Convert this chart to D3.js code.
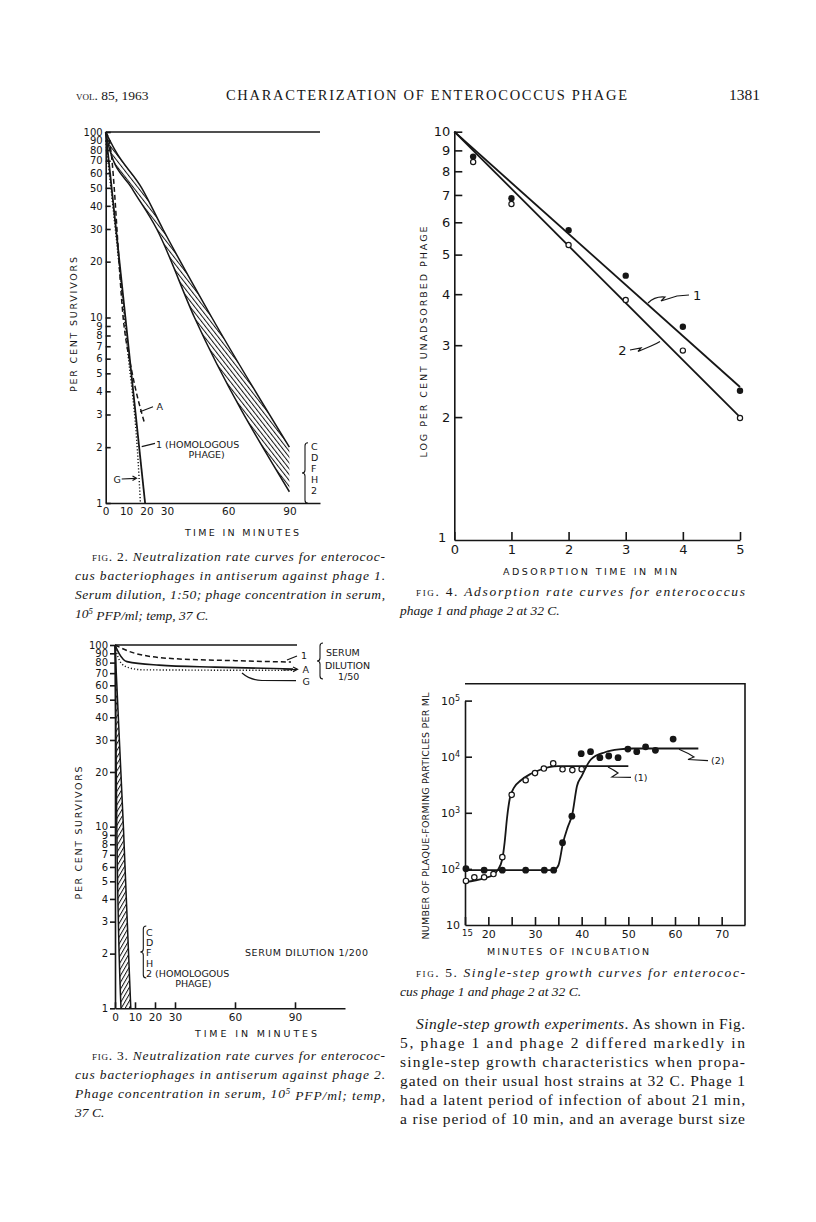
<!DOCTYPE html>
<html>
<head>
<meta charset="utf-8">
<title>Characterization of enterococcus phage</title>
<script src="https://cdn.jsdelivr.net/npm/d3@7/dist/d3.min.js"></script>
<style>
  body { margin: 0; background: #fff; }
  svg { display: block; }
</style>
</head>
<body>
<svg id="page" width="816" height="1222"></svg>
<script>
// Fig. 2 - neutralization, antiserum against phage 1, serum 1:50
var fig2YTicks = [100, 90, 80, 70, 60, 50, 40, 30, 20, 10, 9, 8, 7, 6, 5, 4, 3, 2, 1];
var fig2XTicks = [0, 10, 20, 30, 60, 90];
var fig2Phage1 = [[0, 100], [19.3, 1]];
var fig2A = [[0, 100], [2, 87], [9, 9], [13, 5], [19, 2.7]];
var fig2G = [[0, 90], [10.3, 7.4], [16.3, 1.4], [17, 1]];
var fig2BandUpper = [[0, 100], [4.5, 80], [17.6, 50], [28, 30], [52, 10], [90, 2]];
var fig2BandLower = [[0, 100], [2, 80], [12.7, 50], [25, 30], [43.5, 10], [90, 1.15]];
var fig2BandNames = ["C", "D", "F", "H", "2"];

// Fig. 3 - neutralization, antiserum against phage 2
var fig3YTicks = [100, 90, 80, 70, 60, 50, 40, 30, 20, 10, 9, 8, 7, 6, 5, 4, 3, 2, 1];
var fig3XTicks = [0, 10, 20, 30, 60, 90];
var fig3Phage1 = [[0, 100], [10, 90], [30, 84], [60, 82], [88, 80.5]];
var fig3A = [[0, 100], [2, 90], [6, 81], [22, 77.5], [50, 75.5], [89, 73.8]];
var fig3G = [[0, 98], [1.5, 86], [3.3, 79], [7, 75], [14, 73], [89, 72.5]];
var fig3BandLeft = [[0, 100], [0.9, 10], [3, 1]];
var fig3BandRight = [[0, 100], [4.2, 10], [7.9, 1]];
var fig3BandNames = ["C", "D", "F", "H", "2 (HOMOLOGOUS"];

// Fig. 4 - adsorption rate
var fig4Times = [0.33, 1, 2, 3, 4, 5];
var fig4Phage1 = [8.69, 6.87, 5.74, 4.44, 3.33, 2.32];
var fig4Phage2 = [8.43, 6.65, 5.28, 3.87, 2.91, 1.99];
var fig4Fit1 = [[0, 10], [5, 2.37]];
var fig4Fit2 = [[0, 10], [5, 2.0]];
var fig4YTicks = [10, 9, 8, 7, 6, 5, 4, 3, 2, 1];
var fig4XTicks = [0, 1, 2, 3, 4, 5];

// Fig. 5 - single-step growth
var fig5Phage1 = [[15.2, 61], [17, 71], [19.1, 71], [21.1, 81], [23, 162], [25, 2090], [28, 3800],
  [30, 5100], [31.9, 6150], [33.9, 7600], [35.9, 5960], [38, 5770], [40, 6000]];
var fig5Phage2 = [[15.2, 101], [19.1, 95], [23, 95], [28, 95], [32, 95], [34, 95], [35.9, 294],
  [37.9, 870], [39.9, 11300], [41.9, 12300], [43.9, 9600], [45.8, 10300], [47.8, 9600],
  [49.9, 13700], [51.8, 12300], [53.7, 15000], [55.8, 13000], [59.6, 20600]];
var fig5Curve1 = [[15, 58], [19, 68], [21, 78], [22, 95], [23, 150], [23.5, 300], [24, 800],
  [24.6, 1800], [25.5, 2800], [27, 3800], [29, 4900], [31, 5800], [33, 6500], [35, 6800], [50, 6800]];
var fig5Curve2 = [[15, 95], [34, 95], [35, 115], [36, 290], [37, 550], [38, 950], [39, 3000],
  [40, 4500], [42, 9000], [45, 12000], [48, 13500], [51, 14000], [65, 14000]];
var fig5YTicks = [10, 100, 1000, 10000, 100000];
var fig5XTicks = [15, 20, 25, 30, 35, 40, 45, 50, 55, 60, 65, 70];

var svg = d3.select('#page');
var ink = '#161616';
var sans = '"DejaVu Sans", "Liberation Sans", sans-serif';
var serif = '"Liberation Serif", "DejaVu Serif", serif';

var defs = svg.append('defs');
function hatch(id, angle, gap) {
  defs.append('pattern')
      .attr('id', id)
      .attr('patternUnits', 'userSpaceOnUse')
      .attr('width', gap).attr('height', 10)
      .attr('patternTransform', 'rotate(' + angle + ')')
    .append('line')
      .attr('x1', 0.5).attr('y1', 0).attr('x2', 0.5).attr('y2', 10)
      .attr('stroke', ink).attr('stroke-width', 1);
}
hatch('hatch2', -38, 3.6);
hatch('hatch3', 30, 3.4);

function styleAxis(g, size) {
  g.attr('font-family', sans).attr('font-size', size);
  g.selectAll('path, line').attr('stroke', ink).attr('stroke-width', 1.6);
  g.selectAll('text').attr('fill', ink);
}

function label(x, y, str, size, anchor) {
  return svg.append('text')
      .attr('x', x).attr('y', y)
      .attr('font-family', sans)
      .attr('font-size', size || 9.5)
      .attr('text-anchor', anchor || 'start')
      .attr('dominant-baseline', 'central')
      .attr('fill', ink)
      .text(str);
}

function title(x, y, str, len, vertical) {
  var t = svg.append('text')
      .attr('font-family', sans)
      .attr('font-size', 9.5)
      .attr('text-anchor', 'middle')
      .attr('dominant-baseline', 'central')
      .attr('textLength', len)
      .attr('lengthAdjust', 'spacing')
      .attr('fill', ink)
      .text(str);
  if (vertical) t.attr('transform', 'translate(' + x + ',' + y + ') rotate(-90)');
  else t.attr('x', x).attr('y', y);
}

function ink_path(d, w) {
  return svg.append('path').attr('d', d).attr('fill', 'none')
      .attr('stroke', ink).attr('stroke-width', w || 1.2);
}

function brace(x, y0, y1) {
  var w = 3, m = (y0 + y1) / 2;
  ink_path('M' + (x + w) + ',' + y0 + ' Q' + x + ',' + y0 + ' ' + x + ',' + (y0 + w) +
    ' L' + x + ',' + (m - w) + ' Q' + x + ',' + m + ' ' + (x - w) + ',' + m +
    ' Q' + x + ',' + m + ' ' + x + ',' + (m + w) +
    ' L' + x + ',' + (y1 - w) + ' Q' + x + ',' + y1 + ' ' + (x + w) + ',' + y1, 1.1);
}

function band(x, y, upper, lower, pattern) {
  var line = d3.line().x(function(d) { return x(d[0]); }).y(function(d) { return y(d[1]); })
      .curve(d3.curveMonotoneX);
  var back = line(lower.slice().reverse());
  svg.append('path')
      .attr('d', line(upper) + 'L' + back.slice(1) + 'Z')
      .attr('fill', 'url(#' + pattern + ')');
  [upper, lower].forEach(function(edge) {
    svg.append('path').attr('d', line(edge)).attr('fill', 'none')
        .attr('stroke', ink).attr('stroke-width', 1.5);
  });
}

function curve(x, y, data, dash, width) {
  var line = d3.line().x(function(d) { return x(d[0]); }).y(function(d) { return y(d[1]); })
      .curve(d3.curveMonotoneX);
  svg.append('path').attr('d', line(data)).attr('fill', 'none')
      .attr('stroke', ink).attr('stroke-width', width || 1.6)
      .attr('stroke-dasharray', dash || null);
}

// ---------------- Fig. 2 ----------------
var x2 = d3.scaleLinear().domain([0, 105]).range([105.7, 320]);
var y2 = d3.scaleLog().domain([1, 100]).range([503, 132]);

svg.append('g').attr('transform', 'translate(' + x2(0) + ',0)')
    .call(d3.axisLeft(y2).tickValues(fig2YTicks).tickFormat(d3.format('d'))
      .tickSizeInner(-5).tickSizeOuter(0).tickPadding(3))
    .call(styleAxis, 10);
svg.append('g').attr('transform', 'translate(0,' + y2(1) + ')')
    .call(d3.axisBottom(x2).tickValues(fig2XTicks).tickSize(0).tickPadding(5))
    .call(styleAxis, 10.5);
svg.append('line').attr('x1', x2(0)).attr('x2', x2(105)).attr('y1', y2(100)).attr('y2', y2(100))
    .attr('stroke', ink).attr('stroke-width', 1.6);

band(x2, y2, fig2BandUpper, fig2BandLower, 'hatch2');
curve(x2, y2, fig2Phage1, null, 1.8);
curve(x2, y2, fig2A, '5,3', 1.5);
curve(x2, y2, fig2G, '1.2,2', 1.4);

ink_path('M140,411.7 L153,406.7');
label(156.5, 406.5, 'A');
ink_path('M141.7,446.7 L155,443.3');
label(156, 444.3, '1 (HOMOLOGOUS');
label(206.7, 454.5, 'PHAGE)', 9.5, 'middle');
label(117.3, 479.3, 'G', 9.5, 'middle');
ink_path('M121.7,479 L136,478.3');
ink_path('M132.5,476 L136.5,478.3 L132.5,480.6');
brace(305, 442.7, 503.3);
fig2BandNames.forEach(function(n, i) { label(311, 446 + i * 11, n, 9.5); });

title(242, 532, 'TIME IN MINUTES', 114);
title(73, 324.5, 'PER CENT SURVIVORS', 135, true);

// ---------------- Fig. 4 ----------------
var x4 = d3.scaleLinear().domain([0, 5]).range([454.3, 740]);
var y4 = d3.scaleLog().domain([1, 10]).range([540, 131.7]);

var ax4 = svg.append('g').attr('transform', 'translate(' + x4(0) + ',0)')
    .call(d3.axisLeft(y4).tickValues(fig4YTicks).tickFormat(d3.format('d'))
      .tickSizeInner(-8).tickSizeOuter(0).tickPadding(4))
    .call(styleAxis, 13);
ax4.selectAll('.tick').filter(function(d) { return d === 1; }).select('text').attr('x', -8).attr('dy', '0.1em');
ax4.selectAll('.tick').filter(function(d) { return d === 1; }).select('line').remove();
svg.append('g').attr('transform', 'translate(0,' + y4(1) + ')')
    .call(d3.axisBottom(x4).tickValues(fig4XTicks).tickFormat(d3.format('d'))
      .tickSizeInner(-8).tickSizeOuter(0).tickPadding(5))
    .call(styleAxis, 13);

[fig4Fit1, fig4Fit2].forEach(function(fit) {
  svg.append('line')
      .attr('x1', x4(fit[0][0])).attr('y1', y4(fit[0][1]))
      .attr('x2', x4(fit[1][0])).attr('y2', y4(fit[1][1]))
      .attr('stroke', ink).attr('stroke-width', 1.8);
});
svg.selectAll('.p4a').data(fig4Times).enter().append('circle')
    .attr('cx', function(d) { return x4(d); })
    .attr('cy', function(d, i) { return y4(fig4Phage1[i]); })
    .attr('r', 3.2).attr('fill', ink);
svg.selectAll('.p4b').data(fig4Times).enter().append('circle')
    .attr('cx', function(d) { return x4(d); })
    .attr('cy', function(d, i) { return y4(fig4Phage2[i]); })
    .attr('r', 2.6).attr('fill', '#fff').attr('stroke', ink).attr('stroke-width', 1.2);

ink_path('M648,303 Q655,296 665,297 L661,301 L677,296 L689,295');
label(693, 295, '1', 13);
ink_path('M630,350 L641,348 L638,351.5 L651,346 Q656,344 660,341.5');
label(622.5, 350, '2', 13, 'middle');

title(590, 571, 'ADSORPTION TIME IN MIN', 174);
title(423, 342, 'LOG PER CENT UNADSORBED PHAGE', 231, true);

// ---------------- Fig. 3 ----------------
var x3 = d3.scaleLinear().domain([0, 115]).range([115, 345]);
var y3 = d3.scaleLog().domain([1, 100]).range([1008.3, 645]);

svg.append('g').attr('transform', 'translate(' + x3(0) + ',0)')
    .call(d3.axisLeft(y3).tickValues(fig3YTicks).tickFormat(d3.format('d'))
      .tickSizeInner(5).tickSizeOuter(0).tickPadding(2))
    .call(styleAxis, 10);
svg.append('g').attr('transform', 'translate(0,' + y3(1) + ')')
    .call(d3.axisBottom(x3).tickValues(fig3XTicks).tickSizeInner(-6).tickSizeOuter(0).tickPadding(5))
    .call(styleAxis, 10.5);
svg.append('line').attr('x1', x3(0)).attr('x2', x3(91)).attr('y1', y3(100)).attr('y2', y3(100))
    .attr('stroke', ink).attr('stroke-width', 1.6);

band(x3, y3, fig3BandLeft, fig3BandRight, 'hatch3');
curve(x3, y3, fig3Phage1, '5,3', 1.5);
curve(x3, y3, fig3A, null, 1.6);
curve(x3, y3, fig3G, '1.2,2', 1.4);

ink_path('M287,660 L297,656');
label(301, 655, '1');
ink_path('M283,670 L297,669.3');
ink_path('M293,667 L297.5,669.3 L293,671.6');
label(302.5, 669.3, 'A');
ink_path('M242,673 Q250,680 262,680.5 L296,680.7');
label(302.5, 681.7, 'G');
brace(320, 643, 679);
label(326, 652, 'SERUM');
label(325, 665, 'DILUTION');
label(338, 676, '1/50');

brace(143.3, 926, 978);
fig3BandNames.forEach(function(n, i) { label(146, 932 + i * 10.4, n, 9.5); });
label(193.3, 983, 'PHAGE)', 9.5, 'middle');
svg.append('text').attr('x', 245).attr('y', 952).attr('font-family', sans).attr('font-size', 9.5)
    .attr('dominant-baseline', 'central').attr('fill', ink)
    .attr('textLength', 123).attr('lengthAdjust', 'spacing').text('SERUM DILUTION 1/200');

title(256, 1033, 'TIME IN MINUTES', 122);
title(78, 833, 'PER CENT SURVIVORS', 133, true);

// ---------------- Fig. 5 ----------------
var x5 = d3.scaleLinear().domain([15, 75]).range([465, 745]);
var y5 = d3.scaleLog().domain([10, 100000]).range([925, 700.6]);

var ax5 = svg.append('g').attr('transform', 'translate(' + x5(15) + ',0)')
    .call(d3.axisLeft(y5).tickValues(fig5YTicks).tickSizeInner(-7).tickSizeOuter(0).tickPadding(5))
    .call(styleAxis, 11);
ax5.selectAll('.tick text').each(function(d) {
  var t = d3.select(this).text('10');
  if (d > 10) t.append('tspan').attr('dy', '-0.45em').attr('font-size', 8).text(Math.round(Math.log10(d)));
});
ax5.selectAll('.tick').filter(function(d) { return d === 10; }).select('line').remove();
var bx5 = svg.append('g').attr('transform', 'translate(0,' + y5(10) + ')')
    .call(d3.axisBottom(x5).tickValues(fig5XTicks)
      .tickFormat(function(d) { return d % 10 === 0 || d === 15 ? d : ''; })
      .tickSizeInner(-8).tickSizeOuter(0).tickPadding(5))
    .call(styleAxis, 11);
bx5.selectAll('.tick').filter(function(d) { return d === 15; }).select('text').attr('font-size', 8.5).attr('x', 2);
svg.append('path')
    .attr('d', 'M' + x5(15) + ',' + y5(200000) + 'H' + x5(75) + 'V' + y5(10))
    .attr('fill', 'none').attr('stroke', ink).attr('stroke-width', 1.6);

curve(x5, y5, fig5Curve1, null, 1.8);
curve(x5, y5, fig5Curve2, null, 1.8);
svg.selectAll('.p5b').data(fig5Phage2).enter().append('circle')
    .attr('cx', function(d) { return x5(d[0]); }).attr('cy', function(d) { return y5(d[1]); })
    .attr('r', 3.4).attr('fill', ink);
svg.selectAll('.p5a').data(fig5Phage1).enter().append('circle')
    .attr('cx', function(d) { return x5(d[0]); }).attr('cy', function(d) { return y5(d[1]); })
    .attr('r', 2.7).attr('fill', '#fff').attr('stroke', ink).attr('stroke-width', 1.2);

ink_path('M608,767 Q614,770 618,773 L612,777 L631,777.3');
label(634, 777.3, '(1)', 9.5);
ink_path('M679,749.3 Q688,753 694,757 L688,759.5 L708,760.7');
label(711, 760.7, '(2)', 9.5);

title(568, 951, 'MINUTES OF INCUBATION', 162);
title(425, 816, 'NUMBER OF PLAQUE-FORMING PARTICLES PER ML', 247, true);

// ---------------- page text ----------------
function textLine(x, y, parts, size, len) {
  var t = svg.append('text').attr('x', x).attr('y', y)
      .attr('font-family', serif).attr('font-size', size).attr('fill', ink);
  parts.forEach(function(p) {
    var s = t.append('tspan').text(p[0]);
    if (p[1] === 'i') s.attr('font-style', 'italic');
    if (p[1] === 'sc') s.attr('font-variant', 'small-caps');
    if (p[1] === 'supi') s.attr('font-size', size * 0.65).attr('dy', '-0.45em').attr('font-style', 'italic');
    if (p[1] === 'back') s.attr('dy', '0.45em').attr('font-style', 'italic');
  });
  if (len) t.attr('textLength', len).attr('lengthAdjust', 'spacing');
  return t;
}

textLine(76, 100, [['vol', 'sc'], ['. 85, 1963']], 13.5);
textLine(226, 100, [['CHARACTERIZATION OF ENTEROCOCCUS PHAGE']], 14.5, 401);
textLine(760, 100, [['1381']], 15.5).attr('text-anchor', 'end');

var capSize = 13.5;
textLine(92, 561, [['fig', 'sc'], ['. 2. '], ['Neutralization rate curves for enterococ-', 'i']], capSize, 293);
textLine(75, 580, [['cus bacteriophages in antiserum against phage 1.', 'i']], capSize, 310);
textLine(75, 599, [['Serum dilution, 1:50; phage concentration in serum,', 'i']], capSize, 310);
textLine(75, 618, [['10', 'i'], ['5', 'supi'], [' PFP/ml; temp, 37 C.', 'back']], capSize);

textLine(416, 596, [['fig', 'sc'], ['. 4. '], ['Adsorption rate curves for enterococcus', 'i']], capSize, 329);
textLine(400, 615, [['phage 1 and phage 2 at 32 C.', 'i']], capSize);

textLine(92, 1060, [['fig', 'sc'], ['. 3. '], ['Neutralization rate curves for enterococ-', 'i']], capSize, 293);
textLine(75, 1079, [['cus bacteriophages in antiserum against phage 2.', 'i']], capSize, 310);
textLine(75, 1098, [['Phage concentration in serum, 10', 'i'], ['5', 'supi'], [' PFP/ml; temp,', 'back']], capSize, 310);
textLine(75, 1117, [['37 C.', 'i']], capSize);

textLine(416, 977, [['fig', 'sc'], ['. 5. '], ['Single-step growth curves for enterococ-', 'i']], capSize, 329);
textLine(400, 996, [['cus phage 1 and phage 2 at 32 C.', 'i']], capSize);

var bodySize = 15.5;
textLine(416, 1029, [['Single-step growth experiments', 'i'], ['. As shown in Fig.']], bodySize, 329);
textLine(400, 1048, [['5, phage 1 and phage 2 differed markedly in']], bodySize, 345);
textLine(400, 1067, [['single-step growth characteristics when propa-']], bodySize, 345);
textLine(400, 1086, [['gated on their usual host strains at 32 C. Phage 1']], bodySize, 345);
textLine(400, 1105, [['had a latent period of infection of about 21 min,']], bodySize, 345);
textLine(400, 1124, [['a rise period of 10 min, and an average burst size']], bodySize, 345);
</script>
</body>
</html>
